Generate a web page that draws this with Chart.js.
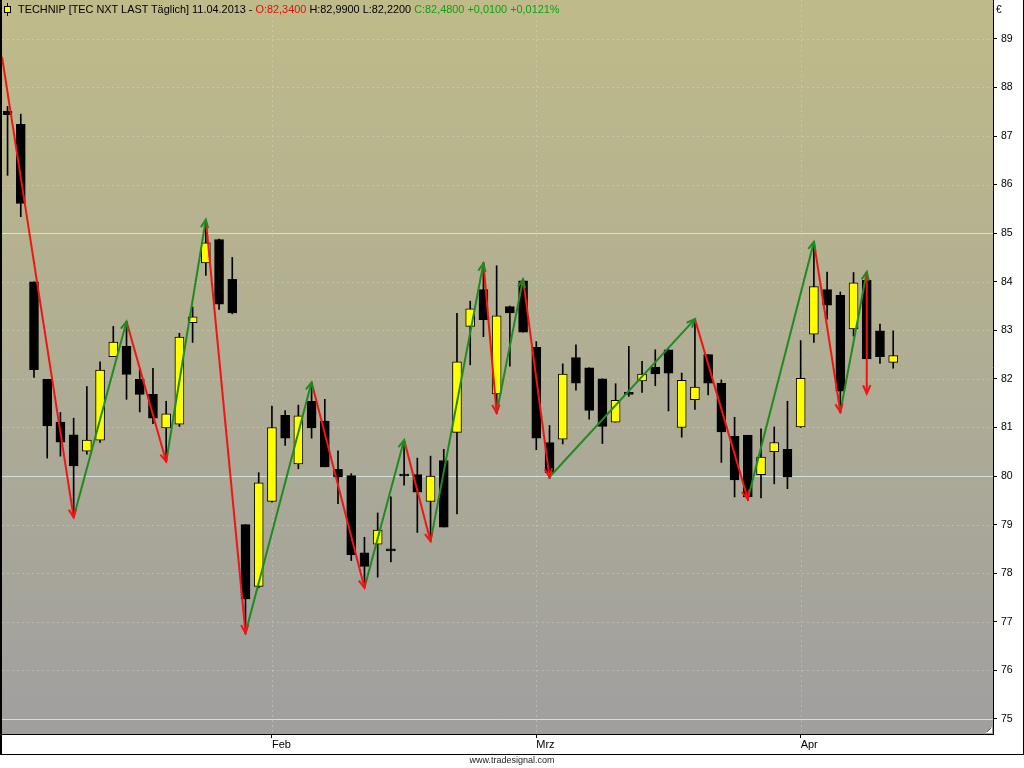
<!DOCTYPE html>
<html><head><meta charset="utf-8">
<script src="https://cdn.jsdelivr.net/npm/chart.js@4.4.0/dist/chart.umd.min.js"></script>
<style>
html,body{margin:0;padding:0;background:#fff;width:1024px;height:768px;overflow:hidden;}
#wrap{position:relative;width:1024px;height:768px;}
#c{position:absolute;left:0;top:0;}
#hdr{position:absolute;left:18px;top:3px;font:10.9px "Liberation Sans",Arial,sans-serif;color:#000;white-space:nowrap;line-height:13px;}
#hdr .r{color:#e01010}
#hdr .g{color:#10a010}
#icon{position:absolute;left:4px;top:3px;width:8px;height:13px;}
#icon .w{position:absolute;left:3px;top:0;width:1px;height:13px;background:#000;}
#icon .b{position:absolute;left:0;top:3px;width:5px;height:5px;background:#ffff00;border:1px solid #000;}
#eur{position:absolute;left:996px;top:4px;font:10px "Liberation Sans",Arial,sans-serif;color:#000;}
#foot{position:absolute;left:0;width:1024px;top:755px;text-align:center;font:9px "Liberation Sans Narrow","Liberation Sans",Arial,sans-serif;color:#222;}
</style></head>
<body><div id="wrap">
<canvas id="c" width="1024" height="768"></canvas>
<div id="icon"><div class="w"></div><div class="b"></div></div>
<div id="hdr">TECHNIP [TEC NXT LAST Täglich] 11.04.2013 - <span class="r">O:82,3400</span> H:82,9900 L:82,2200 <span class="g">C:82,4800 +0,0100 +0,0121%</span></div>
<div id="eur">€</div>
<div id="foot">www.tradesignal.com</div>
</div>
<script>
// ---- data ----
const openV  = [87.51,87.24,84.00,81.99,81.11,80.85,80.51,80.74,82.46,82.67,81.99,81.68,80.99,81.07,83.16,84.39,84.87,84.05,79.00,77.73,
                79.48,81.25,80.25,81.54,81.13,80.14,80.01,78.42,78.60,78.50,80.01,80.03,79.48,80.32,80.90,83.08,83.84,81.69,83.49,84.02,
                82.65,80.69,80.76,82.44,82.23,82.00,81.11,81.70,81.96,82.24,82.60,81.00,81.57,82.50,81.91,80.82,80.84,80.03,80.50,80.55,
                81.01,82.92,83.84,83.72,83.03,84.03,82.99,82.34];
const highV  = [87.61,87.45,84.00,81.99,81.31,81.19,81.84,82.35,83.08,83.18,82.19,82.22,81.54,82.94,83.48,85.28,84.88,84.50,79.00,80.07,
                81.44,81.35,81.46,81.92,81.58,80.52,80.05,78.74,79.24,79.57,80.72,80.37,80.41,80.55,83.35,83.60,84.40,84.33,83.50,84.06,
                82.77,81.04,82.31,82.70,82.23,82.00,81.90,82.67,82.36,82.60,82.60,82.12,83.23,82.50,81.98,81.21,80.84,80.97,81.01,81.54,
                82.79,84.82,84.20,83.79,84.19,84.20,83.13,82.99];
const lowV   = [86.19,85.34,82.03,80.37,80.41,79.15,80.45,80.69,82.46,81.58,81.32,81.08,80.29,81.02,82.75,84.13,83.43,83.34,76.75,77.70,
                79.46,80.63,80.15,80.78,80.19,79.43,78.26,77.71,77.92,78.23,79.81,78.84,78.66,78.95,79.22,82.29,82.87,81.29,82.26,82.96,
                80.54,79.95,80.66,81.77,81.17,80.67,81.11,81.64,81.72,81.86,81.34,80.80,81.37,81.67,80.28,79.57,79.50,79.55,79.84,79.74,
                81.00,82.75,83.23,81.30,82.88,82.41,82.32,82.22];
const closeV = [87.44,85.61,82.19,81.03,80.70,80.21,80.74,82.18,82.76,82.09,81.68,81.19,81.28,82.86,83.28,84.80,83.54,83.36,77.47,79.86,
                81.00,80.78,81.24,80.99,80.19,79.98,78.38,78.14,78.89,78.46,80.00,79.67,80.00,78.95,82.35,83.44,83.22,83.30,83.36,82.96,
                80.78,80.07,82.10,81.91,81.35,81.02,81.56,81.68,82.10,82.10,82.12,81.97,81.83,81.91,80.91,79.92,79.57,80.39,80.69,79.98,
                82.01,83.90,83.52,81.75,83.98,82.41,82.46,82.48];
const zzIdx = [-0.42,5,9,12,15,18,23,27,30,32,36,37,39,41,52,56,61,63,65,65];
const zzVal = [88.63,79.15,83.18,80.30,85.28,76.77,81.93,77.70,80.74,78.66,84.38,81.30,84.05,79.98,83.23,79.53,84.82,81.32,84.20,81.70];
const monthIdx = [20,40,60];
const monthLabels = ['Feb','Mrz','Apr'];
const yTicks = [75,76,77,78,79,80,81,82,83,84,85,86,87,88,89];
const xMin = -0.42, xMax = 74.55, yMin = 74.69, yMax = 89.8;

const UP = '#1f8a1f', DOWN = '#f01414';

const wickData = openV.map((o,i)=>({x:i, y:[lowV[i], highV[i]]}));
const bodyData = openV.map((o,i)=>({x:i, y:[o, closeV[i]]}));
const zzData = zzIdx.map((x,i)=>({x:x, y:zzVal[i]}));

const bgPlugin = {
  id:'bg',
  beforeDraw(chart){
    const {ctx, chartArea:a} = chart;
    ctx.save();
    ctx.fillStyle = '#fff';
    ctx.fillRect(0,0,chart.width,chart.height);
    const g = ctx.createLinearGradient(0,a.top,0,a.bottom);
    g.addColorStop(0,'#bfbb89');
    g.addColorStop(1,'#a09f9f');
    ctx.fillStyle = g;
    ctx.fillRect(a.left,a.top,a.right-a.left,a.bottom-a.top);
    ctx.restore();
  },
  beforeDatasetsDraw(chart){
    const {ctx, chartArea:a, scales:{x,y}} = chart;
    ctx.save();
    ctx.lineWidth = 1;
    y.ticks.forEach(t=>{
      const py = Math.round(y.getPixelForValue(t.value))+0.5;
      if (t.value % 5 === 0){
        ctx.setLineDash([]);
        ctx.strokeStyle = 'rgba(214,236,226,0.85)';
      } else {
        ctx.setLineDash([2,3]);
        ctx.strokeStyle = 'rgba(225,225,215,0.35)';
      }
      ctx.beginPath(); ctx.moveTo(a.left,py); ctx.lineTo(a.right,py); ctx.stroke();
    });
    ctx.setLineDash([2,3]);
    ctx.strokeStyle = 'rgba(225,225,215,0.35)';
    x.ticks.forEach(t=>{
      const px = Math.round(x.getPixelForValue(t.value))+0.5;
      ctx.beginPath(); ctx.moveTo(px,a.top); ctx.lineTo(px,a.bottom); ctx.stroke();
    });
    ctx.restore();
  },
  afterDatasetsDraw(chart){
    const {ctx, chartArea:a} = chart;
    const meta = chart.getDatasetMeta(2);
    const pts = meta.data;
    ctx.save();
    ctx.beginPath(); ctx.rect(a.left,a.top,a.right-a.left,a.bottom-a.top); ctx.clip();
    ctx.lineWidth = 2;
    for (let k=1;k<pts.length;k++){
      const p0 = pts[k-1], p1 = pts[k];
      const ang = Math.atan2(p1.y-p0.y, p1.x-p0.x);
      const L = 9, sp = 0.42;
      ctx.strokeStyle = zzVal[k] > zzVal[k-1] ? UP : DOWN;
      ctx.beginPath();
      ctx.moveTo(p1.x - L*Math.cos(ang-sp), p1.y - L*Math.sin(ang-sp));
      ctx.lineTo(p1.x, p1.y);
      ctx.lineTo(p1.x - L*Math.cos(ang+sp), p1.y - L*Math.sin(ang+sp));
      ctx.stroke();
    }
    ctx.restore();
  },
  afterDraw(chart){
    const {ctx, chartArea:a} = chart;
    ctx.save();
    ctx.fillStyle = '#000';
    ctx.fillRect(0,0,2,755);
    ctx.fillRect(1023,0,1,755);
    ctx.fillRect(0,754,1024,1);
    ctx.fillStyle = '#fff';
    ctx.beginPath();
    ctx.moveTo(a.right-1,a.bottom-7); ctx.lineTo(a.right-1,a.bottom-1); ctx.lineTo(a.right-7,a.bottom-1); ctx.closePath(); ctx.fill();
    ctx.strokeStyle = '#555'; ctx.lineWidth = 1;
    ctx.beginPath(); ctx.moveTo(a.right-6,a.bottom-2); ctx.lineTo(a.right-2,a.bottom-6); ctx.stroke();
    ctx.restore();
  }
};

new Chart(document.getElementById('c'), {
  type:'bar',
  data:{ datasets:[
    { type:'bar', data:wickData, backgroundColor:'#000', borderWidth:0, barThickness:1, grouped:false, order:3 },
    { type:'bar', data:bodyData,
      backgroundColor: c => (closeV[c.dataIndex] >= openV[c.dataIndex] ? '#ffff00' : '#000'),
      borderColor:'#000', borderWidth:1, borderSkipped:false, barThickness:9, minBarLength:2, grouped:false, order:2 },
    { type:'line', data:zzData, borderWidth:2, pointRadius:0, tension:0, order:1, fill:false,
      borderColor:DOWN,
      segment:{ borderColor: c => (c.p1.parsed.y > c.p0.parsed.y ? UP : DOWN) } }
  ]},
  plugins:[bgPlugin],
  options:{
    responsive:false, animation:false, devicePixelRatio:1,
    layout:{ padding:{ left:2, top:0, right:0, bottom:14 } },
    plugins:{ legend:{display:false}, tooltip:{enabled:false} },
    scales:{
      x:{ type:'linear', min:xMin, max:xMax, offset:false, position:'bottom',
          afterBuildTicks: ax => { ax.ticks = monthIdx.map(v=>({value:v})); },
          afterFit: s => { s.height = 20; s.paddingLeft = 0; s.paddingRight = 0; },
          ticks:{ callback: v => monthLabels[monthIdx.indexOf(v)], align:'start', maxRotation:0, autoSkip:false,
                  font:{family:'Liberation Sans', size:11}, color:'#000', padding:0 },
          grid:{ offset:false, drawOnChartArea:false, drawTicks:true, tickLength:4, tickColor:'#000' },
          border:{ display:true, color:'#000', width:1 } },
      y:{ type:'linear', position:'right', min:yMin, max:yMax,
          afterBuildTicks: ax => { ax.ticks = yTicks.map(v=>({value:v})); },
          afterFit: s => { s.width = 31; s.paddingTop = 0; s.paddingBottom = 0; },
          ticks:{ callback: v => String(v), font:{family:'Liberation Sans', size:10.5}, color:'#000', padding:4 },
          grid:{ offset:false, drawOnChartArea:false, drawTicks:true, tickLength:4, tickColor:'#000' },
          border:{ display:true, color:'#000', width:1 } }
    }
  }
});
</script>
</body></html>
